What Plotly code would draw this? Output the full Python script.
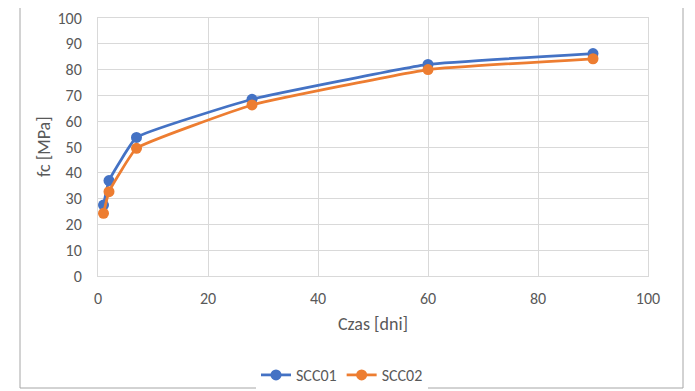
import plotly.graph_objects as go

days = [1, 2, 7, 28, 60, 90]
scc01 = [27.5, 37.0, 53.7, 68.5, 82.0, 86.2]
scc02 = [24.3, 32.7, 49.5, 66.3, 80.0, 84.2]
series_names = ["SCC01", "SCC02"]
colors = ["#4472C4", "#ED7D31"]
x_title = "Czas [dni]"
y_title = "fc [MPa]"

# page body has an 8px margin; work in figure coordinates = screen - 8
OFF = 8
W, H = 695 - OFF, 391 - OFF
L, R, T, B = 98 - OFF, W - (648 - OFF), 18 - OFF, H - (276 - OFF)
pw, ph = W - L - R, H - T - B

def sx(px):
    return (px - OFF - L) / pw

def sy(py):
    return (H - B - (py - OFF)) / ph

fig = go.Figure()
for name, ys, c in zip(series_names, [scc01, scc02], colors):
    fig.add_trace(go.Scatter(
        x=days, y=ys, name=name, mode="lines+markers",
        line=dict(color=c, width=2.75, shape="spline", smoothing=0.3),
        marker=dict(color=c, size=11),
    ))

font_family = "Carlito, Lato, 'Open Sans', sans-serif"
grid = "#d9d9d9"
txt = "#595959"

fig.update_layout(
    width=W, height=H,
    margin=dict(l=L, r=R, t=T, b=B, autoexpand=False),
    paper_bgcolor="white", plot_bgcolor="white",
    font=dict(family=font_family, size=16, color=txt),
    showlegend=True,
    legend=dict(orientation="h", x=sx(342), xanchor="center",
                y=sy(375), yanchor="middle",
                font=dict(size=16, color=txt)),
    xaxis=dict(range=[0, 100], dtick=20, tick0=0, showgrid=True, gridcolor=grid,
               gridwidth=1, zeroline=False, showline=True, linecolor=grid,
               mirror=True, ticks="outside", ticklen=8, tickcolor="rgba(0,0,0,0)",
               automargin=False,
               title=dict(text=x_title, font=dict(size=18, color=txt), standoff=10)),
    yaxis=dict(range=[0, 100], dtick=10, tick0=0, showgrid=True, gridcolor=grid,
               gridwidth=1, zeroline=False, showline=True, linecolor=grid,
               mirror=True, ticks="outside", ticklen=12, tickcolor="rgba(0,0,0,0)",
               automargin=False),
    annotations=[dict(text=y_title, xref="paper", yref="paper", x=sx(44), y=0.5,
                      xanchor="center", yanchor="middle", textangle=-90,
                      showarrow=False, font=dict(size=18, color=txt))],
    shapes=[dict(type="rect", xref="paper", yref="paper",
                 x0=sx(20), x1=sx(683),
                 y0=sy(388), y1=sy(-5),
                 line=dict(color="#a6a6a6", width=1), layer="below")],
)

fig.write_html("out.html")
